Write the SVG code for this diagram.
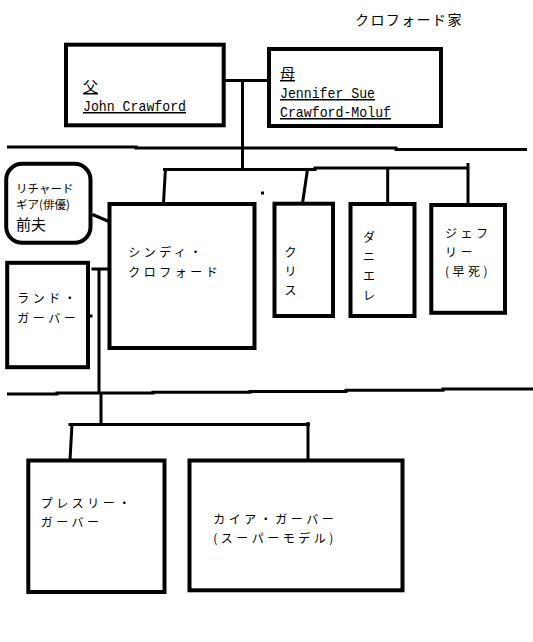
<svg xmlns="http://www.w3.org/2000/svg" width="533" height="642" viewBox="0 0 533 642">
<style>
.box{fill:#fff;stroke:#000;stroke-width:4}
.ln{fill:none;stroke:#000;stroke-width:3}
.jp{font-family:"Noto Sans CJK JP","Noto Sans",sans-serif;font-size:12px;letter-spacing:3.5px;fill:#000}
.jps{font-family:"Noto Sans CJK JP","Noto Sans",sans-serif;font-size:11.5px;fill:#000}
.kan{font-family:"Noto Sans CJK JP","Noto Sans",sans-serif;font-size:15px;fill:#000;text-decoration:underline}
.mono{font-family:"Liberation Mono","DejaVu Sans Mono",monospace;font-size:15px;fill:#000;text-decoration:underline}
.title{font-family:"Noto Sans CJK JP","Noto Sans",sans-serif;font-size:14px;letter-spacing:1.4px;fill:#000}
</style>
<rect width="533" height="642" fill="#fff"/>
<g id="title"><text class="title" x="355" y="25">クロフォード家</text></g>
<g id="connectors">
<path class="ln" d="M222,80.5 H268 M242.5,80 V170"/>
<polyline class="ln" points="7,147 136,147 136,148 396,148 396,149.5 527,149.5"/>
<polyline class="ln" points="163,169.5 315,169.5 315,168 468,168"/>
<path class="ln" d="M165.5,168 L163.5,203 M307.7,168 L302.7,202 M387.7,168 V203 M468,163 V204"/>
<path class="ln" d="M92.5,214.5 L109,221.5"/>
<path class="ln" d="M91.5,269 H110 M99,269 V394 M101,394 V425"/>
<polyline class="ln" points="7,394 57,394 57,393 153,393 153,392.3 250,392.3 250,391.5 346,391.5 346,390.3 443,390.3 443,389 533,389"/>
<path class="ln" d="M68.5,424.5 H310 M72,424.5 L70,460 M308,422 V460"/>
<rect x="261" y="191.5" width="3" height="3" fill="#000"/>
<rect x="89.5" y="314.5" width="3" height="3" fill="#000"/>
</g>
<g id="father">
<rect class="box" x="66" y="44.7" width="157.7" height="80.6"/>
<text class="kan" x="83" y="92">父</text>
<text class="mono" x="83" y="111" textLength="103" lengthAdjust="spacingAndGlyphs">John Crawford</text>
</g>
<g id="mother">
<rect class="box" x="269" y="49" width="172" height="77"/>
<text class="kan" x="280" y="79">母</text>
<text class="mono" x="280" y="98" textLength="95" lengthAdjust="spacingAndGlyphs">Jennifer Sue</text>
<text class="mono" x="280" y="117" textLength="111" lengthAdjust="spacingAndGlyphs">Crawford-Moluf</text>
</g>
<g id="richard">
<rect class="box" x="6.2" y="163.8" width="84.3" height="79" rx="16" ry="16"/>
<text class="jps" x="16" y="192.5">リチャード</text>
<text class="jps" x="16" y="208.5">ギア(俳優)</text>
<text class="jps" x="16" y="229.5" style="font-size:15px">前夫</text>
</g>
<g id="cindy">
<rect class="box" x="109.5" y="204" width="145" height="144"/>
<text class="jp" x="128.3" y="256.5">シンディ・</text>
<text class="jp" x="128.3" y="276.5">クロフォード</text>
</g>
<g id="chris">
<rect class="box" x="274.5" y="203.7" width="58.5" height="112.3"/>
<text class="jp" x="284.5" y="257">ク</text>
<text class="jp" x="284.5" y="276">リ</text>
<text class="jp" x="284.5" y="295">ス</text>
</g>
<g id="daniele">
<rect class="box" x="350.5" y="204" width="64" height="112"/>
<text class="jp" x="363" y="242">ダ</text>
<text class="jp" x="363" y="261.3">ニ</text>
<text class="jp" x="363" y="280.6">エ</text>
<text class="jp" x="363" y="300">レ</text>
</g>
<g id="jeffrey">
<rect class="box" x="431.3" y="205" width="73.7" height="107.8"/>
<text class="jp" x="445" y="237.5">ジェフ</text>
<text class="jp" x="445" y="256.5">リー</text>
<text class="jp" x="445" y="275.5">(早死)</text>
</g>
<g id="rand">
<rect class="box" x="7.2" y="262.8" width="80.8" height="104.4"/>
<text class="jp" x="17.3" y="303.3">ランド・</text>
<text class="jp" x="17.3" y="323">ガーバー</text>
</g>
<g id="presley">
<rect class="box" x="28.3" y="460.5" width="136.2" height="131.5"/>
<text class="jp" x="40.7" y="507.5">プレスリー・</text>
<text class="jp" x="40.7" y="526.5">ガーバー</text>
</g>
<g id="kaia">
<rect class="box" x="189.5" y="460.5" width="213" height="129.8"/>
<text class="jp" x="213.3" y="523.5">カイア・ガーバー</text>
<text class="jp" x="213.3" y="543">(スーパーモデル)</text>
</g>
</svg>
